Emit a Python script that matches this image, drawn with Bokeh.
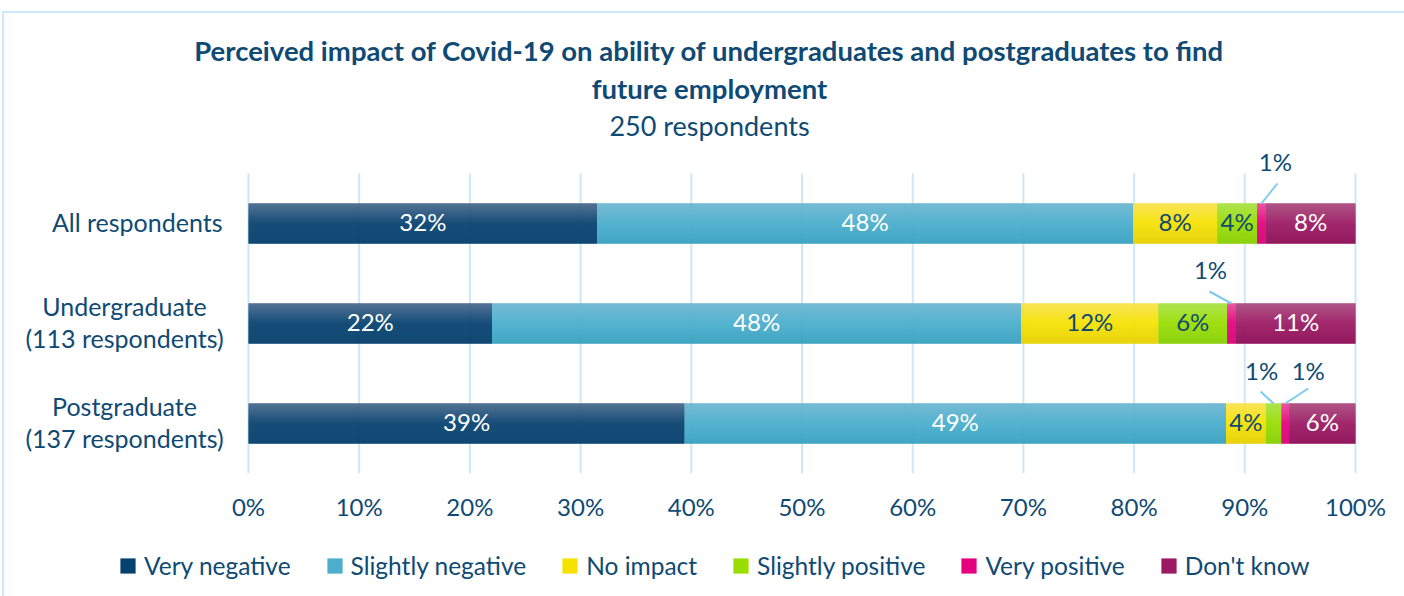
from bokeh.plotting import figure
from bokeh.layouts import column
from bokeh.models import Range1d, FixedTicker, Label, Legend, LegendItem, ColumnDataSource
from bokeh.core.properties import value
from bokeh.embed import file_html
from bokeh.resources import INLINE

# ---------------- data ----------------
categories = ["All respondents", "Undergraduate (113 respondents)", "Postgraduate (137 respondents)"]
category_lines = [["All respondents"], ["Undergraduate", "(113 respondents)"], ["Postgraduate", "(137 respondents)"]]
series_names = ["Very negative", "Slightly negative", "No impact", "Slightly positive", "Very positive", "Don't know"]
very_negative = [31.5, 22.0, 39.4]
slightly_negative = [48.4, 47.8, 48.9]
no_impact = [7.6, 12.4, 3.6]
slightly_positive = [3.6, 6.2, 1.4]
very_positive = [0.8, 0.8, 0.7]
dont_know = [8.1, 10.8, 6.0]
x_ticks = [0, 10, 20, 30, 40, 50, 60, 70, 80, 90, 100]
x_tick_labels = ["0%", "10%", "20%", "30%", "40%", "50%", "60%", "70%", "80%", "90%", "100%"]
title_lines = ["Perceived impact of Covid-19 on ability of undergraduates and postgraduates to find",
               "future employment"]
subtitle = "250 respondents"

series_values = [very_negative, slightly_negative, no_impact, slightly_positive, very_positive, dont_know]

# ---------------- styles ----------------
FONT = "Lato"
DARK = "#0f4a74"
grad = [("#4a6a8e", "#06426f", "#003d6a"),
        ("#6cb6d1", "#4aaecc", "#35a0bf"),
        ("#f7e24c", "#f6e200", "#e6d000"),
        ("#a8e246", "#99dd00", "#86cf00"),
        ("#ea4c9c", "#e4007f", "#d60076"),
        ("#aa4c7e", "#9c1a62", "#8c0a55")]
label_colors = ["white", "white", DARK, DARK, DARK, "white"]
rows = [2, 1, 0]
BAR_H = 0.4
PX_X = 1107 / 100.0   # pixels per percent
PX_Y = 100.0          # pixels per row unit

# canvases sit at page x=4, y=13; main frame spans page y 13..473
W = 1400
FRAME_H = 460
AXIS_H = 56
H1 = FRAME_H + AXIS_H
H2 = 596 - 13 - H1
X0_PAGE = 248
x_start = -(X0_PAGE - 4) / PX_X
x_end = (1404 - X0_PAGE) / PX_X
y_start = -0.5
y_end = -0.5 + FRAME_H / PX_Y


def hex2rgb(h):
    h = h.lstrip("#")
    return tuple(int(h[i:i + 2], 16) for i in (0, 2, 4))


def mix(a, b, t):
    a, b = hex2rgb(a), hex2rgb(b)
    return "#%02x%02x%02x" % tuple(int(round(a[i] + (b[i] - a[i]) * t)) for i in range(3))


def ypage(py):
    """page pixel y -> data y"""
    return 2 + (223 - py) / PX_Y


p = figure(width=W, height=H1, x_range=Range1d(x_start, x_end),
           y_range=Range1d(y_start, y_end), y_axis_location=None,
           output_backend="svg", toolbar_location=None,
           min_border_left=0, min_border_right=0, min_border_top=0, min_border_bottom=AXIS_H)
p.outline_line_color = None
p.background_fill_color = "white"
p.xgrid.visible = False
p.ygrid.visible = False

# x axis
p.xaxis.ticker = FixedTicker(ticks=x_ticks)
p.xaxis.major_label_overrides = {t: l for t, l in zip(x_ticks, x_tick_labels)}
p.xaxis.axis_line_color = None
p.xaxis.major_tick_line_color = None
p.xaxis.minor_tick_line_color = None
p.xaxis.major_tick_out = 0
p.xaxis.major_tick_in = 0
p.xaxis.major_label_standoff = 18
p.xaxis.major_label_text_font = FONT
p.xaxis.major_label_text_font_size = "24px"
p.xaxis.major_label_text_color = DARK

# vertical grid lines at the axis ticks, limited to the bar area
p.segment(x0=x_ticks, y0=[y_start] * len(x_ticks), x1=x_ticks, y1=[2.5] * len(x_ticks),
          line_color="#cde7f8", line_width=2)

# stacked bars with a vertical gradient made of thin strips
N = 40
lefts = [0.0, 0.0, 0.0]
label_x, label_y, label_t, label_c = [], [], [], []
seg_mid = {}
for si, vals in enumerate(series_values):
    top, base, bot = grad[si]
    d = dict(y=[], left=[], right=[], color=[])
    for ri, v in enumerate(vals):
        l = lefts[ri]
        r = l + v
        for k in range(N):
            t = (k + 0.5) / N
            c = mix(top, base, t / 0.5) if t < 0.5 else mix(base, bot, (t - 0.5) / 0.5)
            d["y"].append(rows[ri] + BAR_H / 2 - (k + 0.5) * BAR_H / N)
            d["left"].append(l)
            d["right"].append(r)
            d["color"].append(c)
        seg_mid[(si, ri)] = (l + r) / 2
        if v >= 2:
            label_x.append((l + r) / 2)
            label_y.append(rows[ri])
            label_t.append("%d%%" % int(v + 0.5))
            label_c.append(label_colors[si])
        lefts[ri] = r
    p.hbar(y="y", left="left", right="right", height=BAR_H / N * 1.6, fill_color="color",
           line_color=None, source=ColumnDataSource(d))

p.text(x=label_x, y=label_y, text=label_t, text_color=label_c, text_align="center",
       text_baseline="middle", y_offset=-2, text_font=value(FONT), text_font_size="24px")

# callouts for small segments: (series, row index, line dx, line dy, label dx, label dy) in px
callouts = [(4, 0, 16, 20, 14, 42),
            (4, 1, -22, 12, -21, 34),
            (3, 2, -13, 12, -12, 33),
            (4, 2, 23, 15, 23, 33)]
for si, ri, ldx, ldy, tdx, tdy in callouts:
    xm = seg_mid[(si, ri)]
    yt = rows[ri] + BAR_H / 2
    p.segment(x0=[xm], y0=[yt], x1=[xm + ldx / PX_X], y1=[yt + ldy / PX_Y],
              line_color="#7ec9f1", line_width=2)
    v = series_values[si][ri]
    p.add_layout(Label(x=xm + tdx / PX_X, y=yt + tdy / PX_Y, text="%d%%" % int(v + 0.5),
                       text_align="center", text_baseline="middle", text_font=FONT,
                       text_font_size="24px", text_color=DARK))

# category labels
for ri, lines in enumerate(category_lines):
    if len(lines) == 1:
        p.add_layout(Label(x=0, y=rows[ri], x_offset=-26, y_offset=2, text=lines[0],
                           text_align="right", text_baseline="middle", text_font=FONT,
                           text_font_size="25px", text_color=DARK))
    else:
        for li, txt in enumerate(lines):
            p.add_layout(Label(x=0, y=rows[ri], x_offset=-124, y_offset=18 - 32 * li, text=txt,
                               text_align="center", text_baseline="middle", text_font=FONT,
                               text_font_size="25px", text_color=DARK))

# titles
TX = (709 - X0_PAGE) / PX_X
p.add_layout(Label(x=TX, y=ypage(50), text=title_lines[0], text_align="center",
                   text_baseline="middle", text_font=FONT, text_font_size="27.5px",
                   text_font_style="bold", text_color=DARK))
p.add_layout(Label(x=TX, y=ypage(88), text=title_lines[1], text_align="center",
                   text_baseline="middle", text_font=FONT, text_font_size="27.5px",
                   text_font_style="bold", text_color=DARK))
p.add_layout(Label(x=TX, y=ypage(125), text=subtitle, text_align="center",
                   text_baseline="middle", text_font=FONT, text_font_size="27px",
                   text_color=DARK))

# ---------------- legend strip ----------------
p2 = figure(width=W, height=H2, x_range=Range1d(0, 1), y_range=Range1d(0, 1),
            x_axis_location=None, y_axis_location=None,
            output_backend="svg", toolbar_location=None,
            min_border_left=0, min_border_right=0, min_border_top=0, min_border_bottom=0)
p2.outline_line_color = None
p2.grid.visible = False
items = []
for si, name in enumerate(series_names):
    # legend swatch renderer, kept outside the visible range of this strip
    src = ColumnDataSource(dict(y=[-10.0], left=[0.0], right=[1.0]))
    r = p2.hbar(y="y", left="left", right="right", height=0.5, fill_color=grad[si][1],
                line_color=None, source=src)
    items.append(LegendItem(label=name, renderers=[r]))
legend = Legend(items=items, orientation="horizontal", location=(114, 16),
                glyph_width=19, glyph_height=19, label_standoff=7, spacing=34,
                label_text_font=FONT, label_text_font_size="24.5px", label_text_color=DARK,
                border_line_color=None, background_fill_alpha=0, padding=0, margin=0)
p2.add_layout(legend, "center")

layout = column(p, p2, spacing=0,
                styles={"margin-left": "2px", "margin-top": "11px",
                        "border-top": "2px solid #cfe8f9", "border-left": "2px solid #cfe8f9"})

open("out.html", "w").write(file_html(layout, INLINE))
